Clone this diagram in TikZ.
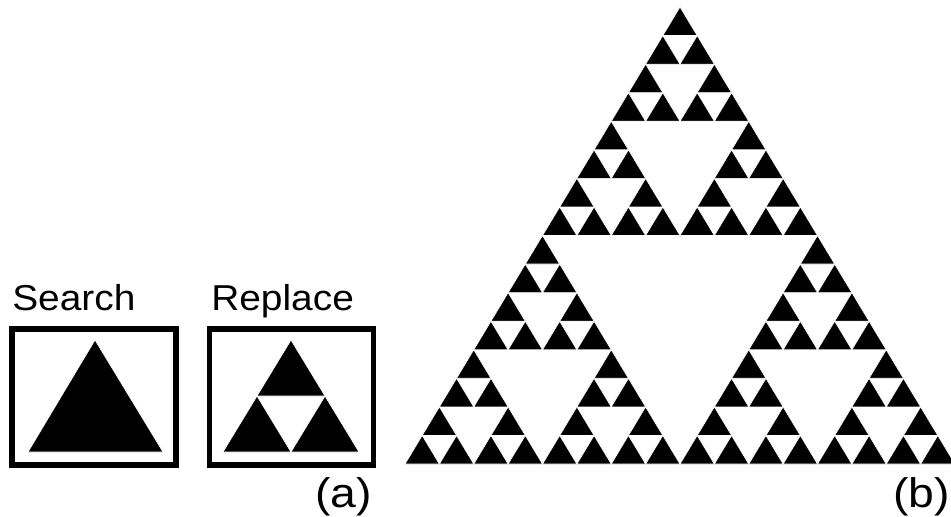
\documentclass[tikz,border=0pt]{standalone}
\usepackage{fontspec}
\setmainfont{Liberation Sans}
\usetikzlibrary{calc}

% size of the smallest triangle in the gasket
\newcommand{\triw}{34.375}
\newcommand{\trih}{28.5625}

\tikzset{
  frame/.style={draw=black, line width=3.8pt, minimum width=164*0.75pt, minimum height=136*0.75pt, inner sep=0pt},
  solid tri/.style={fill=black, draw=white, line width=0.5pt, line join=miter},
  caption/.style={font=\fontsize{27}{30}\selectfont, inner sep=0pt, anchor=base west, xscale=1.08},
  part/.style={font=\fontsize{31}{34}\selectfont, inner sep=0pt, anchor=base west, xscale=1.12}
}

\begin{document}
\begin{tikzpicture}[x=0.75pt, y=-0.75pt]
  \useasboundingbox (0,0) rectangle (951,517);

  % rule boxes
  \node [frame] (search) at (94,397) {};
  \node [frame] (replace) at (291.5,397) {};
  \node [caption] (searchlbl) at (12,310) {Search};
  \node [caption] (replacelbl) at (211,310) {Replace};
  \node [part] (alabel) at (315,507) {(a)};

  \fill [solid tri] (95,340) -- (28,452) -- (163,452) -- cycle; % Draws the search triangle

  \fill [solid tri] (291,340) -- (257,396) -- (325,396) -- cycle; % top part
  \fill [solid tri] (257,396) -- (223,452) -- (291,452) -- cycle; % left part
  \fill [solid tri] (325,396) -- (291,452) -- (359,452) -- cycle; % right part

  % gasket after four replacements
  \foreach \ax/\ay in {0/0,-1/1,1/1} {
    \foreach \bx/\by in {0/0,-1/1,1/1} {
      \foreach \cx/\cy in {0/0,-1/1,1/1} {
        \foreach \dx/\dy in {0/0,-1/1,1/1} {
          \pgfmathsetmacro{\tx}{680+(8*\ax+4*\bx+2*\cx+\dx)*\triw/2}
          \pgfmathsetmacro{\ty}{7+(8*\ay+4*\by+2*\cy+\dy)*\trih}
          \fill [solid tri] (\tx,\ty) -- ++(-\triw/2,\trih) -- ++(\triw,0) -- cycle;
        }
      }
    }
  }
  \node [part] (blabel) at (893,507) {(b)};
\end{tikzpicture}
\end{document}
